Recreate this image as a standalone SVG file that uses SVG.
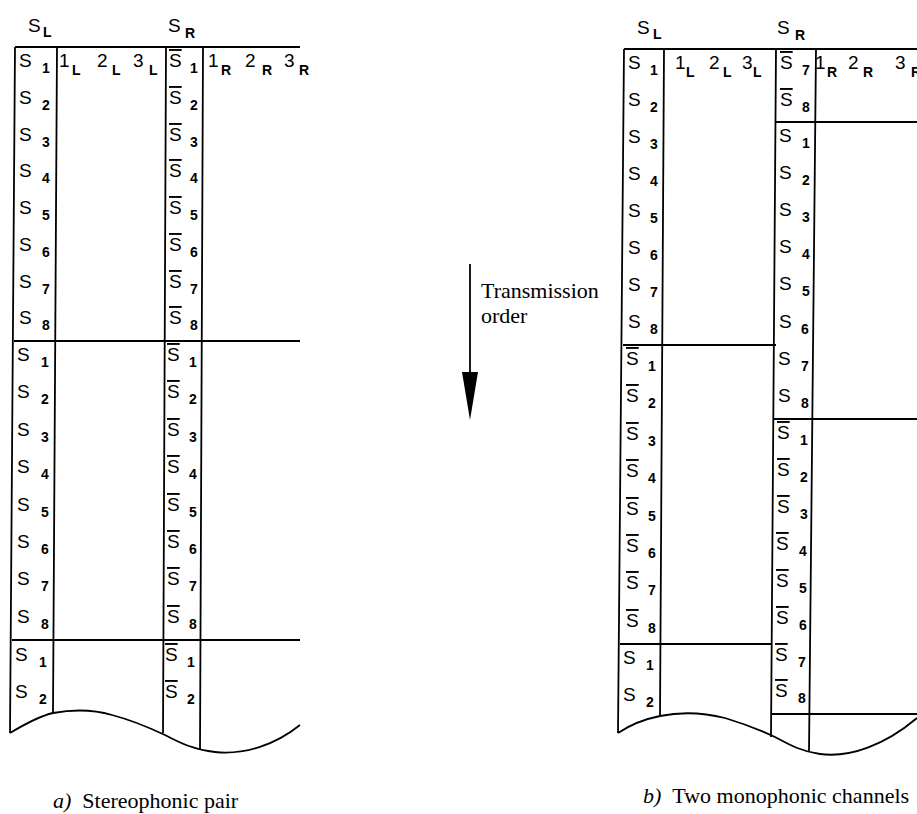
<svg xmlns="http://www.w3.org/2000/svg" width="917" height="814" viewBox="0 0 917 814">
<style>
.ln{stroke:#000;stroke-width:1.8;fill:none;stroke-linejoin:round}
.s{font-family:"Liberation Sans",Arial,sans-serif;font-size:19px;fill:#000}
.d{font-family:"Liberation Sans",Arial,sans-serif;font-size:19px;fill:#000}
.sub{font-size:14px;font-weight:bold}
.ov{text-decoration:overline}
.cap{font-family:"Liberation Serif","Times New Roman",serif;font-size:22px;fill:#000}
.it{font-style:italic}
</style>
<rect width="917" height="814" fill="#fff"/>
<g id="connectors">
  <path class="ln" d="M15,47 H300 M15,47 L10,733 M57,47 L53,713 M166,47 L163,733 M203,47 L200,750 M14,341 H300 M12,640 H300"/>
  <path class="ln" d="M10,733 C25,724 40,716 53,713 C75,709 95,710 112,715 C135,721 150,728 165,735 C180,743 195,750 215,752 C245,755 275,745 300,725"/>
  <path class="ln" d="M624,49 H917 M624,49 L618,733 M664,49 L660,716 M776,49 L771,737 M816,49 L809,752 M623,345 H776 M620,644 H772 M776,122 H917 M774,419 H917 M771,714 H917"/>
  <path class="ln" d="M618,733 C630,725 645,719 660,716 C685,711 705,713 725,718 C745,724 760,730 775,737 C790,745 800,751 820,754 C850,758 885,745 917,718"/>
  <path class="ln" d="M470,264 V374"/>
  <polygon points="462,372 478,372 470,420" fill="#000"/>
</g>
<g id="diagram-a">
  <g id="a-headers">
    <text class="s" x="28" y="32">S<tspan class="sub" x="43" y="37">L</tspan></text>
    <text class="s" x="168" y="32">S<tspan class="sub" x="185" y="38">R</tspan></text>
    <text class="d" x="59" y="67">1<tspan class="sub" x="72" y="75">L</tspan><tspan x="97" y="67">2</tspan><tspan class="sub" x="112" y="75">L</tspan><tspan x="133" y="67">3</tspan><tspan class="sub" x="149" y="75">L</tspan></text>
    <text class="d" x="208" y="67">1<tspan class="sub" x="221" y="75">R</tspan><tspan x="245" y="67">2</tspan><tspan class="sub" x="262" y="75">R</tspan><tspan x="284" y="67">3</tspan><tspan class="sub" x="299" y="75">R</tspan></text>
  </g>
  <g id="a-left">
    <text class="s" x="19" y="67">S<tspan class="sub" x="42" y="73">1</tspan></text>
    <text class="s" x="19" y="104">S<tspan class="sub" x="42" y="110">2</tspan></text>
    <text class="s" x="19" y="141">S<tspan class="sub" x="42" y="147">3</tspan></text>
    <text class="s" x="19" y="177">S<tspan class="sub" x="42" y="183">4</tspan></text>
    <text class="s" x="19" y="214">S<tspan class="sub" x="42" y="220">5</tspan></text>
    <text class="s" x="19" y="251">S<tspan class="sub" x="42" y="257">6</tspan></text>
    <text class="s" x="19" y="288">S<tspan class="sub" x="42" y="294">7</tspan></text>
    <text class="s" x="19" y="324">S<tspan class="sub" x="42" y="330">8</tspan></text>
    <text class="s" x="17" y="361">S<tspan class="sub" x="41" y="367">1</tspan></text>
    <text class="s" x="17" y="398">S<tspan class="sub" x="41" y="404">2</tspan></text>
    <text class="s" x="17" y="436">S<tspan class="sub" x="41" y="442">3</tspan></text>
    <text class="s" x="17" y="473">S<tspan class="sub" x="41" y="479">4</tspan></text>
    <text class="s" x="17" y="511">S<tspan class="sub" x="41" y="517">5</tspan></text>
    <text class="s" x="17" y="548">S<tspan class="sub" x="41" y="554">6</tspan></text>
    <text class="s" x="17" y="585">S<tspan class="sub" x="41" y="591">7</tspan></text>
    <text class="s" x="17" y="623">S<tspan class="sub" x="41" y="629">8</tspan></text>
    <text class="s" x="15" y="661">S<tspan class="sub" x="39" y="667">1</tspan></text>
    <text class="s" x="15" y="698">S<tspan class="sub" x="39" y="704">2</tspan></text>
  </g>
  <g id="a-right">
    <text class="s" x="169" y="67"><tspan class="ov">S</tspan><tspan class="sub" x="190" y="73">1</tspan></text>
    <text class="s" x="169" y="104"><tspan class="ov">S</tspan><tspan class="sub" x="190" y="110">2</tspan></text>
    <text class="s" x="169" y="141"><tspan class="ov">S</tspan><tspan class="sub" x="190" y="147">3</tspan></text>
    <text class="s" x="169" y="177"><tspan class="ov">S</tspan><tspan class="sub" x="190" y="183">4</tspan></text>
    <text class="s" x="169" y="214"><tspan class="ov">S</tspan><tspan class="sub" x="190" y="220">5</tspan></text>
    <text class="s" x="169" y="251"><tspan class="ov">S</tspan><tspan class="sub" x="190" y="257">6</tspan></text>
    <text class="s" x="169" y="288"><tspan class="ov">S</tspan><tspan class="sub" x="190" y="294">7</tspan></text>
    <text class="s" x="169" y="324"><tspan class="ov">S</tspan><tspan class="sub" x="190" y="330">8</tspan></text>
    <text class="s" x="167" y="361"><tspan class="ov">S</tspan><tspan class="sub" x="189" y="367">1</tspan></text>
    <text class="s" x="167" y="398"><tspan class="ov">S</tspan><tspan class="sub" x="189" y="404">2</tspan></text>
    <text class="s" x="167" y="436"><tspan class="ov">S</tspan><tspan class="sub" x="189" y="442">3</tspan></text>
    <text class="s" x="167" y="473"><tspan class="ov">S</tspan><tspan class="sub" x="189" y="479">4</tspan></text>
    <text class="s" x="167" y="511"><tspan class="ov">S</tspan><tspan class="sub" x="189" y="517">5</tspan></text>
    <text class="s" x="167" y="548"><tspan class="ov">S</tspan><tspan class="sub" x="189" y="554">6</tspan></text>
    <text class="s" x="167" y="585"><tspan class="ov">S</tspan><tspan class="sub" x="189" y="591">7</tspan></text>
    <text class="s" x="167" y="623"><tspan class="ov">S</tspan><tspan class="sub" x="189" y="629">8</tspan></text>
    <text class="s" x="165" y="661"><tspan class="ov">S</tspan><tspan class="sub" x="187" y="667">1</tspan></text>
    <text class="s" x="165" y="698"><tspan class="ov">S</tspan><tspan class="sub" x="187" y="704">2</tspan></text>
  </g>
</g>
<g id="diagram-b">
  <g id="b-headers">
    <text class="s" x="637" y="34">S<tspan class="sub" x="653" y="39">L</tspan></text>
    <text class="s" x="777" y="34">S<tspan class="sub" x="795" y="40">R</tspan></text>
    <text class="d" x="675" y="69">1<tspan class="sub" x="686" y="77">L</tspan><tspan x="709" y="69">2</tspan><tspan class="sub" x="723" y="77">L</tspan><tspan x="742" y="69">3</tspan><tspan class="sub" x="753" y="77">L</tspan></text>
    <text class="d" x="815" y="69">1<tspan class="sub" x="827" y="77">R</tspan><tspan x="848" y="69">2</tspan><tspan class="sub" x="863" y="77">R</tspan><tspan x="895" y="69">3</tspan><tspan class="sub" x="911" y="77">R</tspan></text>
  </g>
  <g id="b-left">
    <text class="s" x="628" y="69">S<tspan class="sub" x="650" y="75">1</tspan></text>
    <text class="s" x="628" y="106">S<tspan class="sub" x="650" y="112">2</tspan></text>
    <text class="s" x="628" y="143">S<tspan class="sub" x="650" y="149">3</tspan></text>
    <text class="s" x="628" y="180">S<tspan class="sub" x="650" y="186">4</tspan></text>
    <text class="s" x="628" y="217">S<tspan class="sub" x="650" y="223">5</tspan></text>
    <text class="s" x="628" y="254">S<tspan class="sub" x="650" y="260">6</tspan></text>
    <text class="s" x="628" y="291">S<tspan class="sub" x="650" y="297">7</tspan></text>
    <text class="s" x="628" y="328">S<tspan class="sub" x="650" y="334">8</tspan></text>
    <text class="s" x="626" y="365"><tspan class="ov">S</tspan><tspan class="sub" x="648" y="371">1</tspan></text>
    <text class="s" x="626" y="402"><tspan class="ov">S</tspan><tspan class="sub" x="648" y="408">2</tspan></text>
    <text class="s" x="626" y="440"><tspan class="ov">S</tspan><tspan class="sub" x="648" y="446">3</tspan></text>
    <text class="s" x="626" y="477"><tspan class="ov">S</tspan><tspan class="sub" x="648" y="483">4</tspan></text>
    <text class="s" x="626" y="515"><tspan class="ov">S</tspan><tspan class="sub" x="648" y="521">5</tspan></text>
    <text class="s" x="626" y="552"><tspan class="ov">S</tspan><tspan class="sub" x="648" y="558">6</tspan></text>
    <text class="s" x="626" y="589"><tspan class="ov">S</tspan><tspan class="sub" x="648" y="595">7</tspan></text>
    <text class="s" x="626" y="627"><tspan class="ov">S</tspan><tspan class="sub" x="648" y="633">8</tspan></text>
    <text class="s" x="623" y="664">S<tspan class="sub" x="646" y="670">1</tspan></text>
    <text class="s" x="623" y="701">S<tspan class="sub" x="646" y="707">2</tspan></text>
  </g>
  <g id="b-right">
    <text class="s" x="780" y="69"><tspan class="ov">S</tspan><tspan class="sub" x="802" y="75">7</tspan></text>
    <text class="s" x="780" y="106"><tspan class="ov">S</tspan><tspan class="sub" x="802" y="112">8</tspan></text>
    <text class="s" x="779" y="142">S<tspan class="sub" x="802" y="148">1</tspan></text>
    <text class="s" x="779" y="179">S<tspan class="sub" x="802" y="185">2</tspan></text>
    <text class="s" x="779" y="216">S<tspan class="sub" x="802" y="222">3</tspan></text>
    <text class="s" x="779" y="253">S<tspan class="sub" x="802" y="259">4</tspan></text>
    <text class="s" x="779" y="290">S<tspan class="sub" x="802" y="296">5</tspan></text>
    <text class="s" x="779" y="328">S<tspan class="sub" x="801" y="334">6</tspan></text>
    <text class="s" x="778" y="365">S<tspan class="sub" x="801" y="371">7</tspan></text>
    <text class="s" x="778" y="402">S<tspan class="sub" x="801" y="408">8</tspan></text>
    <text class="s" x="777" y="439"><tspan class="ov">S</tspan><tspan class="sub" x="800" y="445">1</tspan></text>
    <text class="s" x="777" y="476"><tspan class="ov">S</tspan><tspan class="sub" x="800" y="482">2</tspan></text>
    <text class="s" x="777" y="513"><tspan class="ov">S</tspan><tspan class="sub" x="800" y="519">3</tspan></text>
    <text class="s" x="776" y="550"><tspan class="ov">S</tspan><tspan class="sub" x="799" y="556">4</tspan></text>
    <text class="s" x="776" y="587"><tspan class="ov">S</tspan><tspan class="sub" x="799" y="593">5</tspan></text>
    <text class="s" x="776" y="624"><tspan class="ov">S</tspan><tspan class="sub" x="799" y="630">6</tspan></text>
    <text class="s" x="775" y="661"><tspan class="ov">S</tspan><tspan class="sub" x="798" y="667">7</tspan></text>
    <text class="s" x="775" y="697"><tspan class="ov">S</tspan><tspan class="sub" x="798" y="703">8</tspan></text>
  </g>
</g>
<g id="transmission-label">
  <text class="cap" x="481" y="298">Transmission</text>
  <text class="cap" x="481" y="323">order</text>
</g>
<g id="captions">
  <text class="cap" x="53" y="808"><tspan class="it">a)</tspan><tspan dx="11">Stereophonic pair</tspan></text>
  <text class="cap" x="643" y="803"><tspan class="it">b)</tspan><tspan dx="11">Two monophonic channels</tspan></text>
</g>
</svg>
